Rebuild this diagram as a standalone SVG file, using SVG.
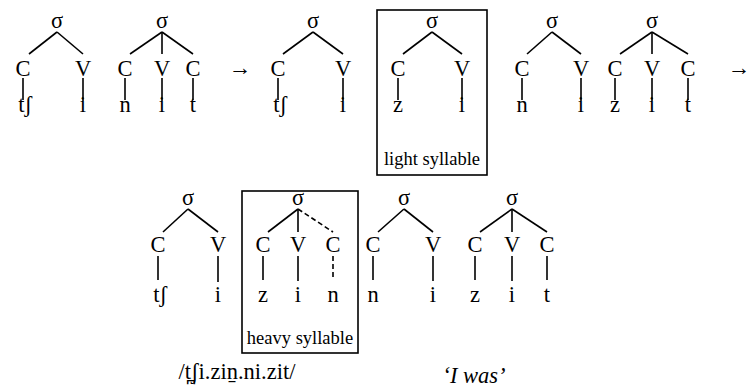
<svg xmlns="http://www.w3.org/2000/svg" width="752" height="389" viewBox="0 0 752 389" font-family="Liberation Serif, Times New Roman, serif">
<style>
text{fill:#000;text-anchor:middle}
.n{font-size:22.5px}
.lab{font-size:18.5px}
.e line{stroke:#000;stroke-width:1.6}
.d{stroke-dasharray:5 3}
.box{fill:none;stroke:#000;stroke-width:1.6}
</style>
<rect width="752" height="389" fill="#fff"/>
<g id="connectors" class="e">
<line x1="57" y1="32" x2="29" y2="54"/><line x1="57" y1="32" x2="83" y2="54"/>
<line x1="23" y1="78" x2="23" y2="100"/><line x1="83" y1="78" x2="83" y2="101"/>
<line x1="162" y1="32" x2="130" y2="54"/><line x1="162" y1="32" x2="162" y2="54"/><line x1="162" y1="32" x2="193" y2="54"/>
<line x1="125" y1="78" x2="125" y2="100"/><line x1="162" y1="78" x2="162" y2="101"/><line x1="193" y1="78" x2="193" y2="100"/>
<line x1="313" y1="32" x2="283" y2="54"/><line x1="313" y1="32" x2="343" y2="54"/>
<line x1="278" y1="78" x2="278" y2="100"/><line x1="343" y1="78" x2="343" y2="101"/>
<line x1="432" y1="32" x2="403" y2="54"/><line x1="432" y1="32" x2="462" y2="54"/>
<line x1="398" y1="78" x2="398" y2="100"/><line x1="462" y1="78" x2="462" y2="101"/>
<line x1="552" y1="32" x2="527" y2="54"/><line x1="552" y1="32" x2="581" y2="54"/>
<line x1="522" y1="78" x2="522" y2="100"/><line x1="581" y1="78" x2="581" y2="101"/>
<line x1="652" y1="32" x2="620" y2="54"/><line x1="652" y1="32" x2="652" y2="54"/><line x1="652" y1="32" x2="688" y2="54"/>
<line x1="615" y1="78" x2="615" y2="100"/><line x1="652" y1="78" x2="652" y2="101"/><line x1="688" y1="78" x2="688" y2="100"/>
<line x1="188" y1="209" x2="163" y2="232"/><line x1="188" y1="209" x2="218" y2="232"/>
<line x1="158" y1="256" x2="158" y2="280"/><line x1="218" y1="256" x2="218" y2="282"/>
<line x1="298" y1="209" x2="268" y2="232"/><line x1="298" y1="209" x2="298" y2="232"/><line class="d" x1="298" y1="209" x2="333" y2="232"/>
<line x1="263" y1="256" x2="263" y2="280"/><line x1="298" y1="256" x2="298" y2="281"/><line class="d" x1="333" y1="256" x2="333" y2="280"/>
<line x1="404" y1="209" x2="378" y2="232"/><line x1="404" y1="209" x2="433" y2="232"/>
<line x1="373" y1="256" x2="373" y2="280"/><line x1="433" y1="256" x2="433" y2="281"/>
<line x1="512" y1="209" x2="480" y2="232"/><line x1="512" y1="209" x2="512" y2="232"/><line x1="512" y1="209" x2="547" y2="232"/>
<line x1="475" y1="256" x2="475" y2="280"/><line x1="512" y1="256" x2="512" y2="281"/><line x1="547" y1="256" x2="547" y2="280"/>
</g>
<g id="tree1" class="n"><text x="57" y="28">σ</text><text x="23" y="76">C</text><text x="83" y="76">V</text><text x="25" y="112">tʃ</text><text x="83" y="112">i</text></g>
<g id="tree2" class="n"><text x="162" y="28">σ</text><text x="125" y="76">C</text><text x="162" y="76">V</text><text x="193" y="76">C</text><text x="125" y="112">n</text><text x="162" y="112">i</text><text x="193" y="112">t</text></g>
<g id="arrow1" class="n"><text x="240" y="75">→</text></g>
<g id="tree3" class="n"><text x="313" y="28">σ</text><text x="278" y="76">C</text><text x="343" y="76">V</text><text x="280" y="112">tʃ</text><text x="343" y="112">i</text></g>
<g id="tree4"><rect class="box" x="377" y="10" width="110" height="165"/><text class="n" x="432" y="28">σ</text><text class="n" x="398" y="76">C</text><text class="n" x="462" y="76">V</text><text class="n" x="398" y="112">z</text><text class="n" x="462" y="112">i</text><text class="lab" x="432" y="165">light syllable</text></g>
<g id="tree5" class="n"><text x="552" y="28">σ</text><text x="522" y="76">C</text><text x="581" y="76">V</text><text x="522" y="112">n</text><text x="581" y="112">i</text></g>
<g id="tree6" class="n"><text x="652" y="28">σ</text><text x="615" y="76">C</text><text x="652" y="76">V</text><text x="688" y="76">C</text><text x="615" y="112">z</text><text x="652" y="112">i</text><text x="688" y="112">t</text></g>
<g id="arrow2" class="n"><text x="739" y="75">→</text></g>
<g id="tree7" class="n"><text x="188" y="205">σ</text><text x="158" y="252">C</text><text x="218" y="252">V</text><text x="160" y="302">tʃ</text><text x="218" y="302">i</text></g>
<g id="tree8"><rect class="box" x="242" y="191" width="116" height="162"/><text class="n" x="298" y="205">σ</text><text class="n" x="263" y="252">C</text><text class="n" x="298" y="252">V</text><text class="n" x="333" y="252">C</text><text class="n" x="263" y="302">z</text><text class="n" x="298" y="302">i</text><text class="n" x="333" y="302">n</text><text class="lab" x="300" y="344">heavy syllable</text></g>
<g id="tree9" class="n"><text x="404" y="205">σ</text><text x="373" y="252">C</text><text x="433" y="252">V</text><text x="373" y="302">n</text><text x="433" y="302">i</text></g>
<g id="tree10" class="n"><text x="512" y="205">σ</text><text x="475" y="252">C</text><text x="512" y="252">V</text><text x="547" y="252">C</text><text x="475" y="302">z</text><text x="512" y="302">i</text><text x="547" y="302">t</text></g>
<g id="caption" class="n"><text x="237" y="379">/t̪ʃi.zin̠.ni.zit/</text><text x="474" y="383" font-style="italic">‘I was’</text></g>
</svg>
